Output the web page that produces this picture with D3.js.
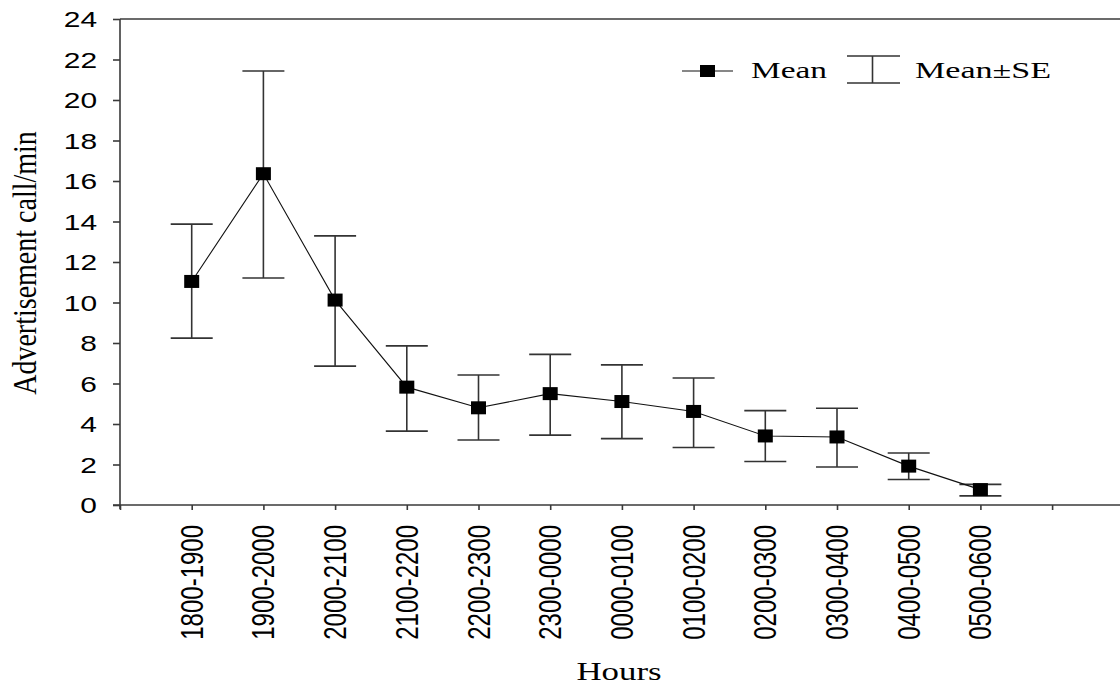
<!DOCTYPE html>
<html>
<head>
<meta charset="utf-8">
<script src="https://cdn.jsdelivr.net/npm/d3@7/dist/d3.min.js"></script>
<style>
  html, body { margin: 0; padding: 0; background: #fff; }
  svg { display: block; }
</style>
</head>
<body>
<svg id="chart" width="1120" height="687"></svg>
<script>
const categories = ["1800-1900","1900-2000","2000-2100","2100-2200","2200-2300","2300-0000",
                    "0000-0100","0100-0200","0200-0300","0300-0400","0400-0500","0500-0600"];
const meanValues  = [11.04, 16.36, 10.12, 5.82, 4.80, 5.50, 5.11, 4.62, 3.41, 3.36, 1.92, 0.76];
const upperValues = [13.87, 21.43, 13.29, 7.86, 6.42, 7.44, 6.92, 6.27, 4.66, 4.78, 2.57, 1.02];
const lowerValues = [ 8.24, 11.21,  6.86, 3.65, 3.21, 3.45, 3.28, 2.84, 2.15, 1.88, 1.26, 0.45];
const yTickValues = [0, 2, 4, 6, 8, 10, 12, 14, 16, 18, 20, 22, 24];

const svg = d3.select("#chart");
const axisColor = "#3a3a3a";

const x = d3.scaleLinear().domain([0, 14]).range([120, 120 + 14 * 71.7]);
const y = d3.scaleLinear().domain([0, 24]).range([505, 19]);

const data = categories.map((c, i) => ({
  cat: c, idx: i + 1, mean: meanValues[i], hi: upperValues[i], lo: lowerValues[i]
}));

// top frame line
svg.append("line")
  .attr("x1", x(0)).attr("x2", 1120)
  .attr("y1", y(24)).attr("y2", y(24))
  .attr("stroke", axisColor).attr("stroke-width", 1.6);

// Y axis
const yAxis = svg.append("g")
  .attr("transform", `translate(${x(0)},0)`)
  .call(d3.axisLeft(y).tickValues(yTickValues).tickSize(7).tickSizeOuter(0));
yAxis.select(".domain").remove();
yAxis.selectAll(".tick line").attr("stroke", axisColor).attr("stroke-width", 1.6);
yAxis.selectAll(".tick text")
  .attr("x", -23 / 1.36)
  .attr("dy", "0.36em")
  .attr("transform", "scale(1.36,1)")
  .attr("fill", "#000")
  .style("font-family", "'Liberation Sans', Arial, sans-serif")
  .style("font-size", "22px");
svg.append("line")
  .attr("x1", x(0)).attr("x2", x(0))
  .attr("y1", y(24)).attr("y2", y(0) + 4)
  .attr("stroke", axisColor).attr("stroke-width", 1.6);

// X axis
const xAxis = svg.append("g")
  .attr("transform", `translate(0,${y(0)})`)
  .call(d3.axisBottom(x).tickValues(d3.range(0, 14)).tickSize(5).tickSizeOuter(0)
        .tickFormat(i => (i >= 1 && i <= 12) ? categories[i - 1] : ""));
xAxis.select(".domain").remove();
svg.append("line")
  .attr("x1", x(0) - 7).attr("x2", 1120)
  .attr("y1", y(0)).attr("y2", y(0))
  .attr("stroke", axisColor).attr("stroke-width", 1.6);
xAxis.selectAll(".tick line").attr("stroke", axisColor).attr("stroke-width", 1.6);
xAxis.selectAll(".tick text")
  .attr("x", 0).attr("y", 0).attr("dy", 0)
  .attr("text-anchor", "end")
  .attr("dominant-baseline", "central")
  .attr("transform", "translate(0,20) scale(1.27,1) rotate(-90)")
  .attr("fill", "#000")
  .style("font-family", "'Liberation Sans', Arial, sans-serif")
  .style("font-size", "24px");

// Error bars
const capHalf = 21;
const eb = svg.append("g").attr("stroke", "#333").attr("stroke-width", 1.6).attr("fill", "none");
data.forEach(d => {
  const cx = x(d.idx);
  eb.append("line").attr("x1", cx).attr("x2", cx).attr("y1", y(d.hi)).attr("y2", y(d.lo));
  eb.append("line").attr("x1", cx - capHalf).attr("x2", cx + capHalf).attr("y1", y(d.hi)).attr("y2", y(d.hi));
  eb.append("line").attr("x1", cx - capHalf).attr("x2", cx + capHalf).attr("y1", y(d.lo)).attr("y2", y(d.lo));
});

// Mean line
svg.append("path")
  .datum(data)
  .attr("fill", "none")
  .attr("stroke", "#111")
  .attr("stroke-width", 1.1)
  .attr("d", d3.line().x(d => x(d.idx)).y(d => y(d.mean)));

// Markers
svg.append("g").selectAll("rect").data(data).join("rect")
  .attr("x", d => x(d.idx) - 7.5)
  .attr("y", d => y(d.mean) - 6.5)
  .attr("width", 15).attr("height", 13)
  .attr("fill", "#000");

// Axis titles
svg.append("text")
  .attr("transform", "translate(619,680) scale(1.34,1)")
  .attr("text-anchor", "middle")
  .attr("fill", "#000")
  .style("font-family", "'Liberation Serif', 'Times New Roman', serif")
  .style("font-size", "26px")
  .text("Hours");

svg.append("text")
  .attr("transform", "translate(36,263) scale(1.17,1) rotate(-90)")
  .attr("text-anchor", "middle")
  .attr("fill", "#000")
  .style("font-family", "'Liberation Serif', 'Times New Roman', serif")
  .style("font-size", "28px")
  .text("Advertisement call/min");

// Legend
const leg = svg.append("g");
leg.append("line").attr("x1", 682).attr("x2", 733).attr("y1", 71).attr("y2", 71)
  .attr("stroke", "#111").attr("stroke-width", 1.1);
leg.append("rect").attr("x", 700).attr("y", 65).attr("width", 15).attr("height", 12).attr("fill", "#000");
leg.append("text")
  .attr("transform", "translate(751,77.5) scale(1.39,1)")
  .attr("fill", "#000")
  .style("font-family", "'Liberation Serif', 'Times New Roman', serif")
  .style("font-size", "24px")
  .text("Mean");
const lg2 = leg.append("g").attr("stroke", "#333").attr("stroke-width", 1.6);
lg2.append("line").attr("x1", 847).attr("x2", 900).attr("y1", 56).attr("y2", 56);
lg2.append("line").attr("x1", 847).attr("x2", 900).attr("y1", 83).attr("y2", 83);
lg2.append("line").attr("x1", 872.5).attr("x2", 872.5).attr("y1", 56).attr("y2", 83);
leg.append("text")
  .attr("transform", "translate(915,77.5) scale(1.42,1)")
  .attr("fill", "#000")
  .style("font-family", "'Liberation Serif', 'Times New Roman', serif")
  .style("font-size", "24px")
  .text("Mean±SE");
</script>
</body>
</html>
